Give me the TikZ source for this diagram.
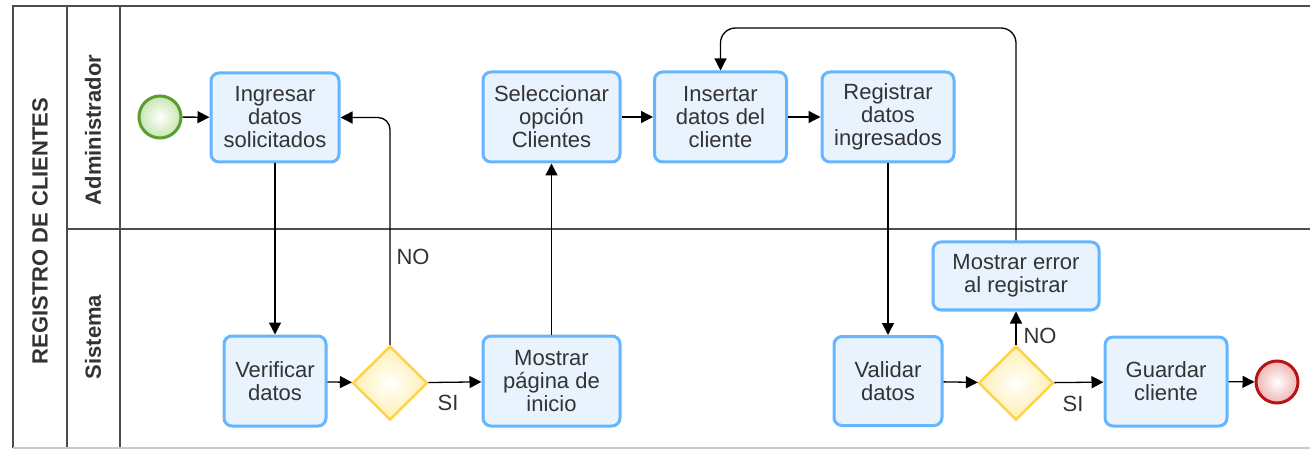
\documentclass[tikz,border=0pt]{standalone}
\usepackage{fontspec}
\setmainfont{Liberation Sans}
\usetikzlibrary{shapes.geometric,arrows.meta}
\definecolor{lanegray}{HTML}{4D4D4D}
\definecolor{textgray}{HTML}{333333}
\definecolor{taskfill}{HTML}{E8F3FE}
\definecolor{taskline}{HTML}{66B5FF}
\definecolor{gwline}{HTML}{FFD24A}
\definecolor{gwfill}{HTML}{FFF0B0}
\definecolor{startline}{HTML}{5A9E2F}
\definecolor{startfill}{HTML}{C6E6B0}
\definecolor{endline}{HTML}{B81414}
\definecolor{endfill}{HTML}{F0B4B4}

\begin{document}
\begin{tikzpicture}[x=1pt,y=-1pt,
    every node/.style={font=\fontsize{22}{23}\selectfont,text=textgray},
    task/.style={draw=taskline,fill=taskfill,line width=3pt,rounded corners=8pt,
        align=center,inner sep=0pt},
    gateway/.style={diamond,draw=gwline,line width=2.5pt,inner sep=0pt,
        minimum width=75pt,minimum height=74pt,shading=radial,
        inner color=white,outer color=gwfill},
    event/.style={circle,line width=3pt,inner sep=0pt,minimum size=42pt,
        shading=radial,inner color=white},
    flow/.style={draw=black,line width=1.3pt,-{Triangle[length=12pt,width=12pt]}},
    lane/.style={draw=lanegray,line width=2.6pt},
    lanetitle/.style={rotate=90,font=\fontsize{22}{23}\selectfont\bfseries}]
        \useasboundingbox (0,0) rectangle (1310,449);
        % pool and lanes
        \draw[lane] (1310,6) -- (13,6) -- (13,448);
        \draw[lane] (67,6) -- (67,448);
        \draw[lane] (120,6) -- (120,448);
        \draw[lane] (67,229) -- (1310,229);
        \draw[draw=lanegray!30,line width=1.5pt] (13,448) -- (1310,448);
        \node[lanetitle] (pool) at (40,231) {REGISTRO DE CLIENTES};
        \node[lanetitle] (admin) at (93,130) {Administrador};
        \node[lanetitle] (sistema) at (93,337) {Sistema};
        % Administrador
        \node[event,draw=startline,outer color=startfill] (start) at (160,117) {};
        \node[task,minimum width=128pt,minimum height=89pt] (ingresar) at (275,117.5) {Ingresar\\datos\\solicitados};
        \node[task,minimum width=137pt,minimum height=90pt] (seleccionar) at (551.5,117) {Seleccionar\\opción\\Clientes};
        \node[task,minimum width=132pt,minimum height=90pt] (insertar) at (720.5,117) {Insertar\\datos del\\cliente};
        \node[task,minimum width=132pt,minimum height=90pt] (registrar) at (888,117) {Registrar\\datos\\ingresados};
        % Sistema
        \node[task,minimum width=102pt,minimum height=90pt] (verificar) at (275,381) {Verificar\\datos};
        \node[gateway] (gw1) at (390,383) {};
        \node[task,minimum width=137pt,minimum height=90pt] (pagina) at (551.5,381) {Mostrar\\página de\\inicio};
        \node[task,minimum width=108pt,minimum height=89pt] (validar) at (888,381) {Validar\\datos};
        \node[gateway] (gw2) at (1016,383) {};
        \node[task,minimum width=166pt,minimum height=68pt] (error) at (1016,276) {Mostrar error\\al registrar};
        \node[task,minimum width=122pt,minimum height=89pt] (guardar) at (1166,381.5) {Guardar\\cliente};
        \node[event,draw=endline,outer color=endfill] (end) at (1277,382) {};
        \coordinate (loop) at (1016,28);
        % flows
        \draw[flow] (start) -- (ingresar);
        \draw[flow] (ingresar) -- (verificar);
        \draw[flow] (verificar) -- (gw1);
        \draw[flow,rounded corners=12pt] (gw1.north) |- (ingresar.east);
        \draw[flow] (gw1) -- (pagina);
        \draw[flow] (pagina) -- (seleccionar);
        \draw[flow] (seleccionar) -- (insertar);
        \draw[flow] (insertar) -- (registrar);
        \draw[flow] (registrar) -- (validar);
        \draw[flow] (validar) -- (gw2);
        \draw[flow] (gw2) -- (guardar);
        \draw[flow] (guardar) -- (end);
        \draw[flow] (gw2) -- (error);
        \draw[flow,rounded corners=15pt] (error.north) -- (loop) -| (insertar.north);
        % labels
        \node (no1) at (413,257) {NO};
        \node (si1) at (448,403) {SI};
        \node (no2) at (1040,336) {NO};
        \node (si2) at (1073,404) {SI};
\end{tikzpicture}
\end{document}
